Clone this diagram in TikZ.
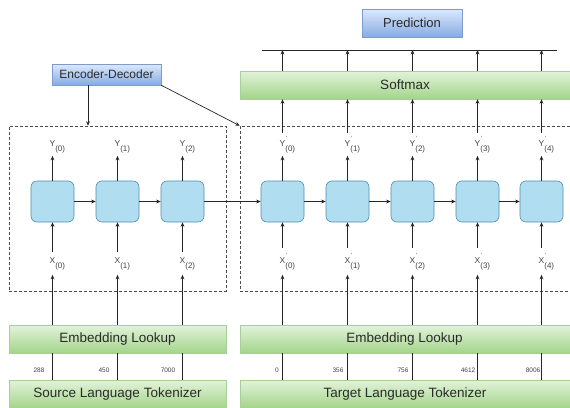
\documentclass[tikz,border=0pt]{standalone}
\usepackage{fontspec}
\setmainfont{Liberation Sans}
\usetikzlibrary{arrows.meta,shadows}
\definecolor{cellfill}{HTML}{B1DDF0}
\definecolor{celldraw}{HTML}{4F8FAE}
\definecolor{gtop}{HTML}{E2F2DA}
\definecolor{gbot}{HTML}{A3D58A}
\definecolor{gdraw}{HTML}{A9CF98}
\definecolor{btop}{HTML}{DCE9FC}
\definecolor{bbot}{HTML}{86ABE2}
\definecolor{bdraw}{HTML}{7D9CCB}
\definecolor{txt}{HTML}{2A2A2A}
\definecolor{lbl}{HTML}{444444}
\tikzset{
  x=1pt, y=-1pt,
  cell/.style={draw=celldraw, line width=0.6pt, fill=cellfill, rounded corners=6pt,
    minimum width=43pt, minimum height=41pt, inner sep=0pt},
  greenbox/.style={draw=gdraw, line width=0.4pt, top color=gtop, bottom color=gbot,
    text=txt, font=\fontsize{13.5}{15}\selectfont, inner sep=0pt,
    drop shadow={shadow xshift=1pt, shadow yshift=-1pt, opacity=0.25}},
  bluebox/.style={draw=bdraw, line width=0.4pt, top color=btop, bottom color=bbot,
    text=txt, inner sep=0pt,
    drop shadow={shadow xshift=1pt, shadow yshift=-1pt, opacity=0.3}},
  frame/.style={draw=black!70, densely dashed, line width=0.5pt},
  arr/.style={draw=black!85, line width=0.7pt, -{Stealth[length=4.5pt,width=3.8pt]}},
  ln/.style={draw=black!85, line width=0.7pt},
  ylab/.style={text=lbl, font=\fontsize{8.5}{9}\selectfont, anchor=base, inner xsep=0.5pt, inner ysep=3pt},
  xlab/.style={text=lbl, font=\fontsize{8.5}{9}\selectfont, anchor=base, inner xsep=0.5pt, inner ysep=5pt},
  num/.style={text=lbl, font=\fontsize{6.5}{7}\selectfont, anchor=base}
}
\newcommand{\sub}[1]{\rlap{\fontsize{8}{8}\selectfont\raisebox{-5pt}{(#1)}}}
\newcommand{\pri}{\rlap{\kern0.5pt\fontsize{6}{6}\selectfont\raisebox{6pt}{'}}}
\begin{document}
\begin{tikzpicture}
\useasboundingbox (0,0) rectangle (570,407);
\clip (0,0) rectangle (570,407);
\fill[white] (0,0) rectangle (570,407);

% frames
\node[frame, minimum width=217pt, minimum height=165pt, inner sep=0pt] (lframe) at (117.5,208.5) {};
\node[frame, minimum width=335pt, minimum height=165pt, inner sep=0pt] (rframe) at (407.5,208.5) {};

% header boxes
\node[bluebox, minimum width=109pt, minimum height=21pt, font=\fontsize{12}{13}\selectfont] (encdec) at (106.5,74.5) {Encoder-Decoder};
\node[bluebox, minimum width=100pt, minimum height=28pt, font=\fontsize{13}{14}\selectfont] (pred) at (412,23) {Prediction};

% green boxes
\node[greenbox, minimum width=335pt, minimum height=28pt] (softmax) at (407.5,85) {};
\node[text=txt, font=\fontsize{13.5}{15}\selectfont] at (405,85) {Softmax};
\node[greenbox, minimum width=217pt, minimum height=28pt] (lemb) at (117.5,339) {Embedding Lookup};
\node[greenbox, minimum width=335pt, minimum height=28pt] (remb) at (407.5,339) {};
\node[text=txt, font=\fontsize{13.5}{15}\selectfont] at (404.5,339) {Embedding Lookup};
\node[greenbox, minimum width=217pt, minimum height=28pt] (ltok) at (117.5,394) {Source Language Tokenizer};
\node[greenbox, minimum width=335pt, minimum height=28pt] (rtok) at (407.5,394) {};
\node[text=txt, font=\fontsize{13.5}{15}\selectfont] at (405,394) {Target Language Tokenizer};

% prediction line
\coordinate (la) at (262,50);
\coordinate (lb) at (557,50);
\draw[ln] (la) -- (lb);

% cells
\node[cell] (e0) at (52.5,201.5) {};
\node[cell] (e1) at (117.5,201.5) {};
\node[cell] (e2) at (182.5,201.5) {};
\node[cell] (d0) at (282.5,201.5) {};
\node[cell] (d1) at (347.5,201.5) {};
\node[cell] (d2) at (412.5,201.5) {};
\node[cell] (d3) at (477.5,201.5) {};
\node[cell] (d4) at (541.5,201.5) {};

% labels
\node[ylab] (ey0) at (52.5,146) {Y\sub{0}};
\node[ylab] (ey1) at (117.5,146) {Y\sub{1}};
\node[ylab] (ey2) at (182.5,146) {Y\sub{2}};
\node[xlab] (ex0) at (52.5,263) {X\sub{0}};
\node[xlab] (ex1) at (117.5,263) {X\sub{1}};
\node[xlab] (ex2) at (182.5,263) {X\sub{2}};
\foreach \i/\xx in {0/282.5,1/347.5,2/412.5,3/477.5,4/541.5}{
  \node[ylab] (dy\i) at (\xx,146) {Y\pri\sub{\i}};
  \node[xlab] (dx\i) at (\xx,263) {X\pri\sub{\i}};
}

% recurrent arrows
\draw[arr] (e0) -- (e1);
\draw[arr] (e1) -- (e2);
\draw[arr] (e2) -- (d0);
\draw[arr] (d0) -- (d1);
\draw[arr] (d1) -- (d2);
\draw[arr] (d2) -- (d3);
\draw[arr] (d3) -- (d4);

% encoder verticals
\foreach \c in {0,1,2}{
  \draw[arr] (e\c.north) -- (ey\c.south);
  \draw[arr] (ex\c.north) -- (e\c.south);
  \draw[arr] (lemb.north -| e\c) -- (ex\c.south);
  \draw[ln] (ltok.north -| e\c) -- (lemb.south -| e\c);
}
% decoder verticals
\foreach \c in {0,...,4}{
  \draw[arr] (d\c.north) -- (dy\c.south);
  \draw[arr] (dy\c.north) -- (softmax.south -| d\c);
  \draw[arr] (softmax.north -| d\c) -- (la -| d\c);
  \draw[arr] (dx\c.north) -- (d\c.south);
  \draw[arr] (remb.north -| d\c) -- (dx\c.south);
  \draw[ln] (rtok.north -| d\c) -- (remb.south -| d\c);
}

% token ids
\node[num] at (39,372) {288};
\node[num] at (104,372) {450};
\node[num] at (168,372) {7000};
\node[num] at (277,372) {0};
\node[num] at (338,372) {356};
\node[num] at (403,372) {756};
\node[num] at (468,372) {4612};
\node[num] at (533,372) {8006};

% encoder-decoder pointers
\draw[arr] (encdec.south -| 88,0) -- (lframe.north -| 88,0);
\draw[arr] (encdec.south east) -- (rframe.north west);
\end{tikzpicture}
\end{document}
